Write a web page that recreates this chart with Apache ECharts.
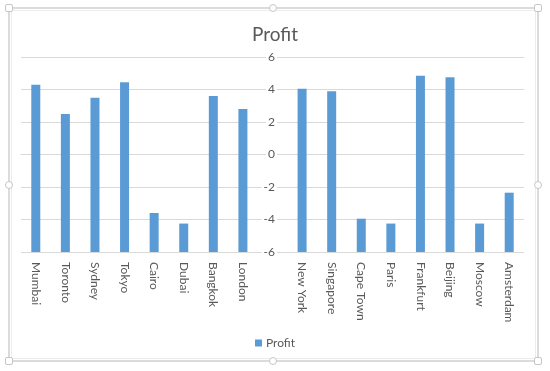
<!DOCTYPE html>
<html>
<head>
<meta charset="utf-8">
<script src="https://cdn.jsdelivr.net/npm/echarts@6/dist/echarts.min.js"></script>
<style>html,body{margin:0;padding:0;background:#fff;}#c{width:550px;height:371px;}</style>
</head>
<body>
<div id="c"></div>
<script>
var categories = ['Mumbai','Toronto','Sydney','Tokyo','Cairo','Dubai','Bangkok','London','','New York','Singapore','Cape Town','Paris','Frankfurt','Beijing','Moscow','Amsterdam'];
var profit = [4.3, 2.5, 3.5, 4.45, -3.6, -4.25, 3.6, 2.8, null, 4.05, 3.9, -3.95, -4.25, 4.85, 4.75, -4.25, -2.35];
var yTicks = [-6, -4, -2, 0, 2, 4, 6];
var FONT = 'Lato, "Open Sans", sans-serif';

var chart = echarts.init(document.getElementById('c'), null, {renderer: 'canvas'});
function handle(x, y, round) {
  return {type: 'rect', shape: {x: x - 3.5, y: y - 3.5, width: 7, height: 7, r: round ? 3.5 : 1.5},
    style: {fill: '#fff', stroke: '#C6C6C6', lineWidth: 1}, z: 100};
}
chart.setOption({
  animation: false,
  backgroundColor: '#fff',
  title: {
    text: 'Profit', left: 'center', top: 20,
    textStyle: {fontFamily: FONT, fontSize: 19, fontWeight: 'normal', color: '#595959'}
  },
  legend: {
    data: ['Profit'], left: 'center', top: 332, icon: 'rect', itemWidth: 7, itemHeight: 7, itemGap: 4,
    textStyle: {fontFamily: FONT, fontSize: 12, color: '#595959', padding: [0, 0, 0, -1]}
  },
  grid: {left: 21, right: 26, top: 57, bottom: 119, containLabel: false},
  xAxis: {
    type: 'category', data: categories,
    axisTick: {show: false},
    axisLine: {show: true, lineStyle: {color: '#D9D9D9'}},
    axisLabel: {interval: 0, rotate: -90, margin: 10, fontFamily: FONT, fontSize: 12, color: '#595959'}
  },
  yAxis: {
    type: 'value', min: yTicks[0], max: yTicks[yTicks.length - 1], interval: 2,
    startValue: yTicks[0],
    offset: -258,
    axisLine: {show: false}, axisTick: {show: false},
    splitLine: {lineStyle: {color: '#D9D9D9'}},
    axisLabel: {margin: 2, align: 'right', backgroundColor: '#fff', padding: [0, 2],
      fontFamily: FONT, fontSize: 12, color: '#595959'}
  },
  series: [{
    name: 'Profit', type: 'bar', data: profit, barWidth: 9,
    itemStyle: {color: '#5B9BD5'}
  }],
  graphic: [
    {type: 'rect', shape: {x: 9, y: 8, width: 529, height: 353},
      style: {fill: null, stroke: '#CFCFCF', lineWidth: 1.5}, z: 99},
    {type: 'rect', shape: {x: 11.5, y: 10.5, width: 524, height: 348},
      style: {fill: null, stroke: '#ECECEC', lineWidth: 1}, z: 99},
    handle(9, 8, false), handle(538, 8, false), handle(9, 361, false), handle(538, 361, false),
    handle(273, 8, true), handle(273, 361, true), handle(9, 185, true), handle(538, 185, true)
  ]
});
</script>
</body>
</html>
